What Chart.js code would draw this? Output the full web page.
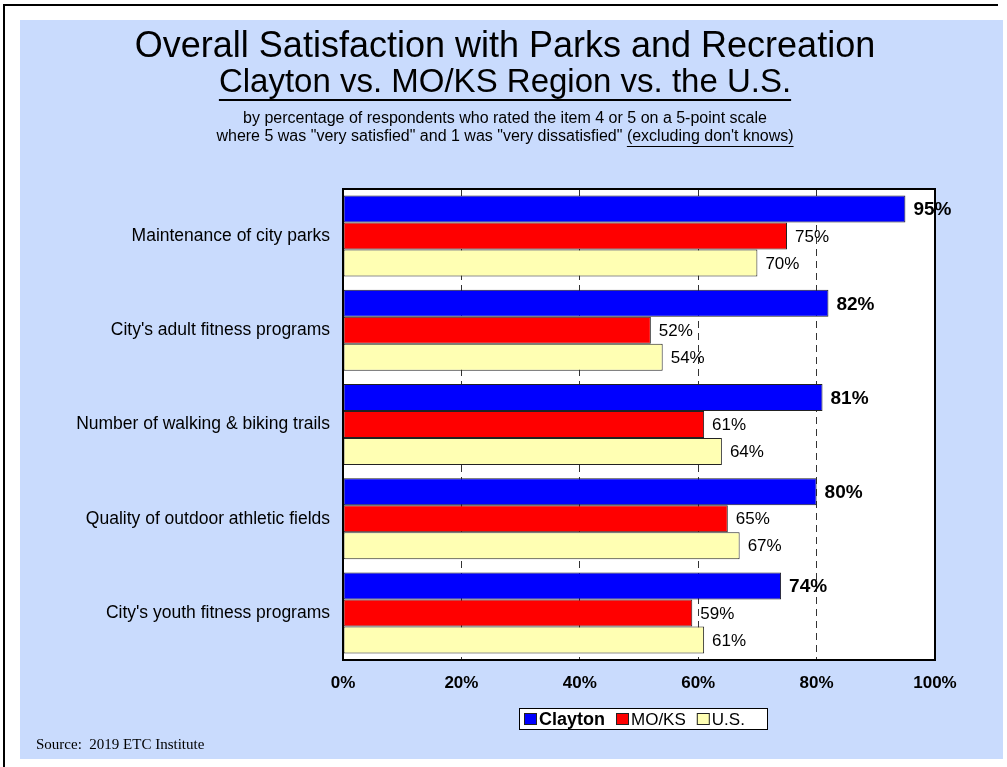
<!DOCTYPE html>
<html>
<head>
<meta charset="utf-8">
<script src="https://cdn.jsdelivr.net/npm/chart.js@4/dist/chart.umd.min.js"></script>
<style>
  html, body { margin: 0; padding: 0; background: #ffffff; }
  #wrap { width: 1007px; height: 767px; position: relative; }
</style>
</head>
<body>
<div id="wrap"><canvas id="c" width="1007" height="767"></canvas></div>
<script>
// Survey items (top to bottom)
const categories = [
  "Maintenance of city parks",
  "City's adult fitness programs",
  "Number of walking & biking trails",
  "Quality of outdoor athletic fields",
  "City's youth fitness programs"
];
// Percent rating 4 or 5
const claytonValues = [95, 82, 81, 80, 74];
const mokssValues   = [75, 52, 61, 65, 59];
const usValues      = [70, 54, 64, 67, 61];
const seriesNames   = ["Clayton", "MO/KS", "U.S."];
const xTicks        = [0, 20, 40, 60, 80, 100];

const SANS = "'Liberation Sans', Arial, Helvetica, sans-serif";
const SERIF = "'Liberation Serif', 'Times New Roman', serif";
const PANEL = "#c9dbfd";

// Page frame, blue panel and white plot background
const backdrop = {
  id: "backdrop",
  beforeDraw(chart) {
    const ctx = chart.ctx;
    const ca = chart.chartArea;
    ctx.save();
    ctx.fillStyle = "#ffffff";
    ctx.fillRect(0, 0, chart.width, chart.height);
    ctx.strokeStyle = "#000000";
    ctx.lineWidth = 2;
    ctx.beginPath();
    ctx.moveTo(4, chart.height);
    ctx.lineTo(4, 5);
    ctx.lineTo(998, 5);
    ctx.stroke();
    ctx.fillStyle = PANEL;
    ctx.fillRect(20, 20, 983, 739);
    ctx.fillStyle = "#ffffff";
    ctx.fillRect(ca.left, ca.top, ca.right - ca.left, ca.bottom - ca.top);
    ctx.restore();
  }
};

// Headline, underlined subtitle and notes
const header = {
  id: "header",
  afterDraw(chart) {
    const ctx = chart.ctx;
    const cx = 505;
    ctx.save();
    ctx.fillStyle = "#000000";
    ctx.textAlign = "center";
    ctx.textBaseline = "middle";

    ctx.font = "36px " + SANS;
    ctx.fillText("Overall Satisfaction with Parks and Recreation", cx, 47);

    ctx.font = "33px " + SANS;
    const t2 = "Clayton vs. MO/KS Region vs. the U.S.";
    ctx.fillText(t2, cx, 83);
    const w2 = ctx.measureText(t2).width;
    ctx.fillRect(cx - w2 / 2, 99, w2, 2);

    ctx.font = "16px " + SANS;
    ctx.fillText("by percentage of respondents who rated the item 4 or 5 on a 5-point scale", cx, 119);

    const a = "where 5 was \"very satisfied\" and 1 was \"very dissatisfied\" ";
    const b = "(excluding don't knows)";
    const wa = ctx.measureText(a).width;
    const wb = ctx.measureText(b).width;
    const x0 = cx - (wa + wb) / 2;
    ctx.textAlign = "left";
    ctx.fillText(a, x0, 137);
    ctx.fillText(b, x0 + wa, 137);
    ctx.fillRect(x0 + wa, 146, wb, 1);

    ctx.font = "15px " + SERIF;
    ctx.fillText("Source:  2019 ETC Institute", 36, 745);
    ctx.restore();
  }
};

// Plot frame plus value labels at the end of each bar
const barLabels = {
  id: "barLabels",
  afterDatasetsDraw(chart) {
    const ctx = chart.ctx;
    const ca = chart.chartArea;
    ctx.save();
    ctx.strokeStyle = "#000000";
    ctx.lineWidth = 2;
    ctx.strokeRect(ca.left, ca.top, ca.right - ca.left, ca.bottom - ca.top);

    ctx.fillStyle = "#000000";
    ctx.textAlign = "left";
    ctx.textBaseline = "middle";
    chart.data.datasets.forEach((ds, di) => {
      const meta = chart.getDatasetMeta(di);
      ctx.font = di === 0 ? "bold 19px " + SANS : "17px " + SANS;
      meta.data.forEach((bar, i) => {
        ctx.fillText(ds.data[i] + "%", bar.x + 8, bar.y + 1);
      });
    });
    ctx.restore();
  }
};

// Boxed legend under the axis
const legendBox = {
  id: "legendBox",
  afterDraw(chart) {
    const ctx = chart.ctx;
    const left = 519, top = 708, w = 248, h = 21;
    ctx.save();
    ctx.fillStyle = "#ffffff";
    ctx.fillRect(left, top, w, h);
    ctx.strokeStyle = "#000000";
    ctx.lineWidth = 1;
    ctx.strokeRect(left + 0.5, top + 0.5, w, h);
    let x = left + 5;
    const cy = top + h / 2 + 0.5;
    ctx.textBaseline = "middle";
    chart.data.datasets.forEach((ds, di) => {
      ctx.fillStyle = ds.backgroundColor;
      ctx.fillRect(x, cy - 6, 13, 12);
      ctx.strokeStyle = "#222222";
      ctx.strokeRect(x + 0.5, cy - 5.5, 12, 11);
      x += 15;
      ctx.fillStyle = "#000000";
      ctx.font = di === 0 ? "bold 18px " + SANS : "17px " + SANS;
      ctx.fillText(seriesNames[di], x, cy + 1);
      x += ctx.measureText(seriesNames[di]).width + 11;
    });
    ctx.restore();
  }
};

const barStyle = { borderColor: "#222222", borderWidth: 1, borderSkipped: false,
                   categoryPercentage: 0.86, barPercentage: 1.0 };

new Chart(document.getElementById("c"), {
  type: "bar",
  data: {
    labels: categories,
    datasets: [
      Object.assign({ label: seriesNames[0], data: claytonValues, backgroundColor: "#0000ff" }, barStyle),
      Object.assign({ label: seriesNames[1], data: mokssValues,   backgroundColor: "#ff0000" }, barStyle),
      Object.assign({ label: seriesNames[2], data: usValues,      backgroundColor: "#ffffb3" }, barStyle)
    ]
  },
  options: {
    indexAxis: "y",
    responsive: false,
    animation: false,
    devicePixelRatio: 1,
    layout: { padding: { left: 0, right: 72, top: 189, bottom: 0 } },
    plugins: { legend: { display: false }, title: { display: false }, tooltip: { enabled: false } },
    scales: {
      x: {
        min: 0, max: 100,
        afterBuildTicks(scale) { scale.ticks = xTicks.map(v => ({ value: v })); },
        afterFit(scale) { scale.height = 107; },
        grid: { color: "#333333", lineWidth: 1, drawTicks: false },
        border: { display: false, dash: [7, 5] },
        ticks: {
          padding: 13,
          color: "#000000",
          font: { family: SANS, size: 17, weight: "bold" },
          callback: v => v + "%"
        }
      },
      y: {
        afterFit(scale) { scale.width = 343; },
        grid: { display: false, drawTicks: false },
        border: { display: false },
        ticks: {
          padding: 13,
          color: "#000000",
          font: { family: SANS, size: 17.5 }
        }
      }
    }
  },
  plugins: [backdrop, barLabels, header, legendBox]
});
</script>
</body>
</html>
